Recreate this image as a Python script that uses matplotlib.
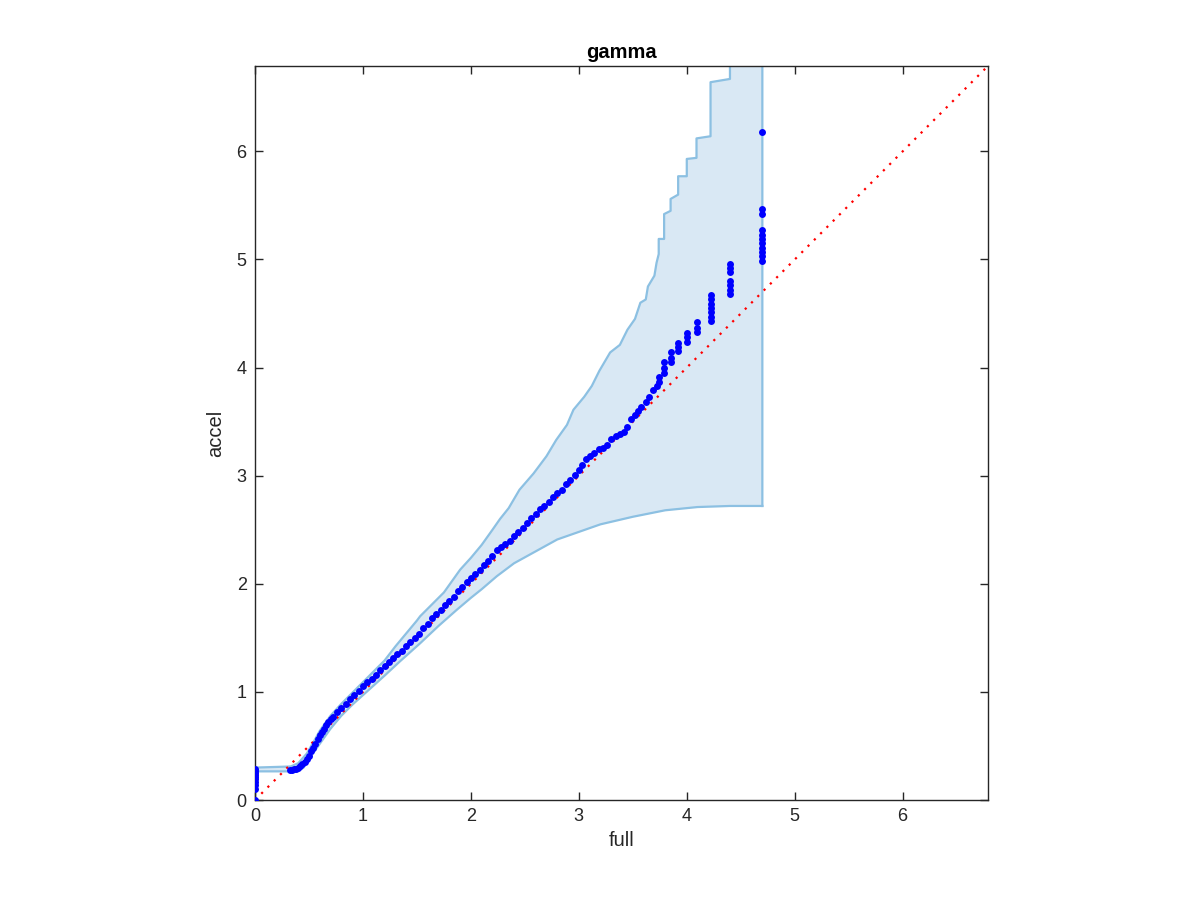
import numpy as np
import matplotlib
matplotlib.use("Agg")
import matplotlib.pyplot as plt

plt.rcParams['font.family'] = ['Liberation Sans', 'DejaVu Sans']

# quantile points (full vs accel)
full = [0, 0, 0, 0, 0, 0, 0, 0, 0, 0,
        0.32, 0.34, 0.36, 0.38, 0.40, 0.42, 0.44, 0.46, 0.48, 0.50,
        0.52, 0.54, 0.56, 0.58, 0.60, 0.62, 0.64, 0.66, 0.68, 0.70,
        0.72, 0.76, 0.80, 0.84, 0.88, 0.92, 0.96, 1.00, 1.04, 1.08,
        1.12, 1.16, 1.20, 1.24, 1.28, 1.32, 1.36, 1.40, 1.44, 1.48,
        1.52, 1.56, 1.60, 1.64, 1.68, 1.72, 1.76, 1.80, 1.84, 1.88,
        1.92, 1.96, 2.00, 2.04, 2.08, 2.12, 2.16, 2.20, 2.24, 2.28,
        2.32, 2.36, 2.40, 2.44, 2.48, 2.52, 2.56, 2.60, 2.64, 2.68,
        2.72, 2.76, 2.80, 2.84, 2.88, 2.92, 2.96, 3.00, 3.03, 3.07,
        3.10, 3.14, 3.19, 3.22, 3.26, 3.30, 3.34, 3.38, 3.42, 3.45,
        3.48, 3.52, 3.55, 3.58, 3.62, 3.65, 3.69, 3.72, 3.74, 3.74,
        3.79, 3.79, 3.79, 3.85, 3.85, 3.85, 3.92, 3.92, 3.92,
        4.00, 4.00, 4.00, 4.09, 4.09, 4.09,
        4.22, 4.22, 4.22, 4.22, 4.22, 4.22, 4.22,
        4.40, 4.40, 4.40, 4.40, 4.40, 4.40, 4.40,
        4.70, 4.70, 4.70, 4.70, 4.70, 4.70, 4.70, 4.70, 4.70, 4.70, 4.70]
accel = [0, 0.10, 0.14, 0.17, 0.19, 0.21, 0.23, 0.25, 0.27, 0.29,
         0.28, 0.28, 0.29, 0.29, 0.30, 0.31, 0.33, 0.35, 0.38, 0.41,
         0.45, 0.48, 0.52, 0.56, 0.60, 0.63, 0.66, 0.69, 0.72, 0.75,
         0.77, 0.81, 0.85, 0.89, 0.93, 0.97, 1.01, 1.05, 1.09, 1.12,
         1.16, 1.20, 1.24, 1.28, 1.31, 1.35, 1.38, 1.42, 1.46, 1.50,
         1.54, 1.59, 1.63, 1.68, 1.72, 1.76, 1.80, 1.84, 1.88, 1.93,
         1.97, 2.02, 2.05, 2.09, 2.13, 2.17, 2.21, 2.26, 2.31, 2.34,
         2.37, 2.40, 2.44, 2.48, 2.52, 2.56, 2.61, 2.65, 2.69, 2.72,
         2.76, 2.80, 2.84, 2.87, 2.92, 2.96, 3.01, 3.05, 3.10, 3.15,
         3.18, 3.21, 3.25, 3.26, 3.28, 3.34, 3.37, 3.39, 3.40, 3.45,
         3.52, 3.56, 3.60, 3.64, 3.68, 3.73, 3.79, 3.83, 3.87, 3.91,
         3.95, 4.00, 4.05, 4.05, 4.09, 4.14, 4.15, 4.19, 4.23,
         4.24, 4.28, 4.32, 4.33, 4.37, 4.42,
         4.43, 4.47, 4.51, 4.55, 4.59, 4.63, 4.67,
         4.68, 4.72, 4.76, 4.80, 4.88, 4.92, 4.96,
         4.99, 5.03, 5.07, 5.11, 5.15, 5.19, 5.23, 5.27, 5.42, 5.47, 6.18]

# confidence band edges
upper_x = [0, 0, 0.33, 0.40, 0.48, 0.55, 0.60, 0.70, 0.80, 0.90, 1.00,
           1.10, 1.20, 1.30, 1.40, 1.50, 1.53, 1.65, 1.75, 1.90, 2.00,
           2.10, 2.20, 2.27, 2.35, 2.45, 2.58, 2.70, 2.79, 2.89, 2.95,
           3.05, 3.12, 3.19, 3.29, 3.38, 3.45, 3.52, 3.57, 3.62, 3.64,
           3.70, 3.72, 3.74, 3.74, 3.79, 3.79, 3.85, 3.85, 3.92, 3.92,
           4.00, 4.00, 4.09, 4.09, 4.22, 4.22, 4.40, 4.40, 4.70]
upper_y = [0, 0.30, 0.31, 0.34, 0.43, 0.55, 0.64, 0.78, 0.89, 0.99, 1.09,
           1.19, 1.29, 1.42, 1.54, 1.66, 1.70, 1.82, 1.92, 2.13, 2.24,
           2.36, 2.50, 2.60, 2.70, 2.87, 3.02, 3.18, 3.33, 3.47, 3.61,
           3.73, 3.83, 3.97, 4.14, 4.21, 4.35, 4.45, 4.60, 4.63, 4.75,
           4.85, 4.97, 5.05, 5.19, 5.19, 5.42, 5.45, 5.56, 5.60, 5.77,
           5.77, 5.93, 5.94, 6.12, 6.14, 6.64, 6.67, 7.50, 7.50]
lower_x = [0, 0, 0.33, 0.40, 0.45, 0.50, 0.55, 0.60, 0.70, 0.80, 0.90,
           1.00, 1.10, 1.20, 1.34, 1.53, 1.70, 1.87, 2.00, 2.10, 2.24,
           2.40, 2.60, 2.80, 3.00, 3.20, 3.50, 3.80, 4.10, 4.40, 4.70]
lower_y = [0, 0.265, 0.265, 0.27, 0.30, 0.38, 0.45, 0.52, 0.66, 0.78, 0.88,
           0.97, 1.06, 1.15, 1.28, 1.45, 1.61, 1.76, 1.87, 1.95, 2.07,
           2.19, 2.30, 2.41, 2.48, 2.55, 2.62, 2.68, 2.71, 2.72, 2.72]

lim = 6.79
edge_col = '#8cc0e2'
fill_col = '#d9e8f4'

fig = plt.figure(figsize=(12, 9), dpi=100)
ax = fig.add_axes([0.2125, 0.1111, 0.6108, 0.8156])

# band polygon
poly_x = upper_x + [upper_x[-1]] + lower_x[::-1]
poly_y = upper_y + [lower_y[-1]] + lower_y[::-1]
ax.fill(poly_x, poly_y, color=fill_col, lw=0, zorder=1)
ax.plot(upper_x + [upper_x[-1], lower_x[-1]], upper_y + [lower_y[-1], lower_y[-1]],
        color=edge_col, lw=1.6, zorder=2)
ax.plot(lower_x, lower_y, color=edge_col, lw=1.6, zorder=2)

ax.plot([0, lim], [0, lim], color='red', ls=(0, (1, 3)), lw=1.6, zorder=3)
ax.plot(full, accel, ls='none', marker='o', ms=5, mfc='blue', mec='blue',
        mew=0, zorder=4)

ax.set_xlim(0, lim)
ax.set_ylim(0, lim)
ax.set_xticks(range(7))
ax.set_yticks(range(7))
ax.tick_params(direction='in', length=5.5, width=1, top=True, right=True,
               labelsize=13, colors='#262626', pad=6)
for s in ax.spines.values():
    s.set_color('#262626')
    s.set_linewidth(1)
ax.set_xlabel('full', fontsize=14.5, color='#262626', labelpad=4)
ax.set_ylabel('accel', fontsize=14.5, color='#262626', labelpad=8)
ax.set_title('gamma', fontsize=14.5, fontweight='bold', pad=6)

fig.savefig('out.png', dpi=100)
